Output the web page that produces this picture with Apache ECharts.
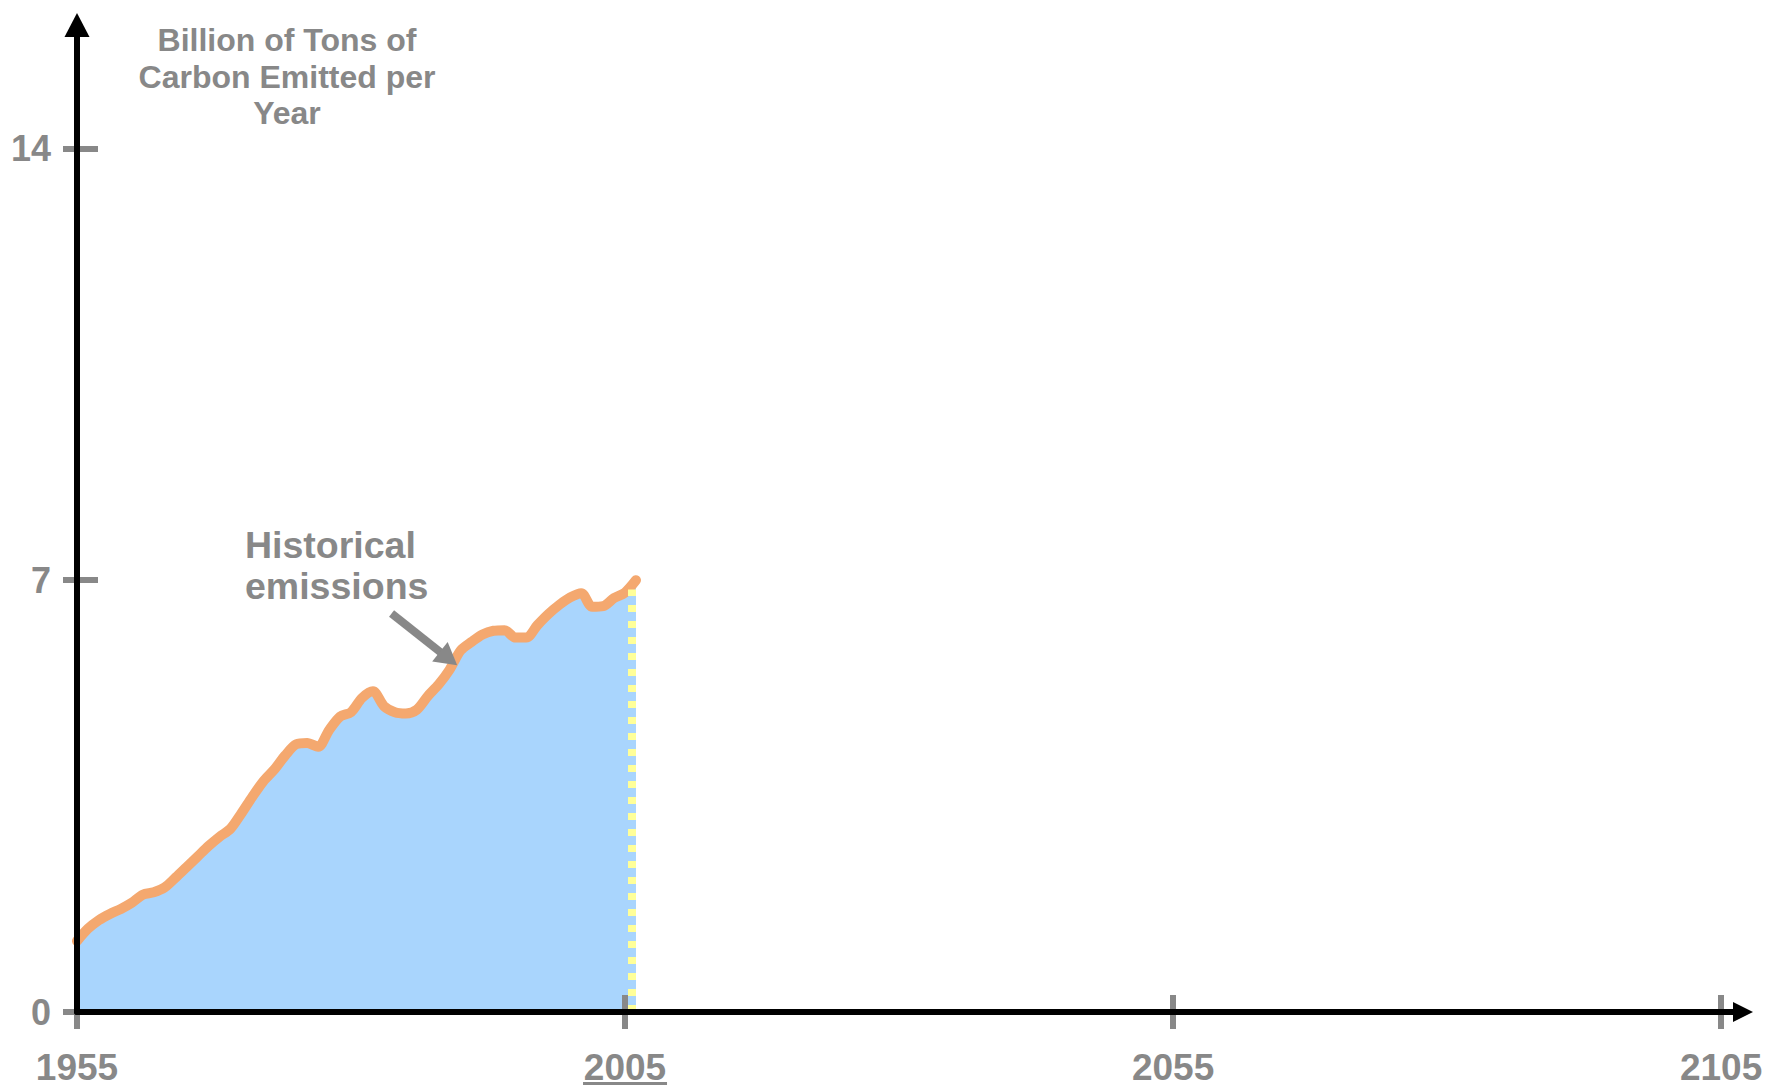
<!DOCTYPE html>
<html>
<head>
<meta charset="UTF-8">
<title>Billion of Tons of Carbon Emitted per Year</title>
<script src="https://cdn.jsdelivr.net/npm/echarts@6/dist/echarts.min.js"></script>
<style>
    html, body { margin: 0; padding: 0; background: #fff; }
    #chart { width: 1777px; height: 1092px; }
</style>
</head>
<body>
<div id="chart"></div>
<script>
    // historical emissions, billion tons of carbon per year
    var years = [1955, 1956, 1957, 1958, 1959, 1960, 1961, 1962, 1963, 1964,
        1965, 1966, 1967, 1968, 1969, 1970, 1971, 1972, 1973, 1974,
        1975, 1976, 1977, 1978, 1979, 1980, 1981, 1982, 1983, 1984,
        1985, 1986, 1987, 1988, 1989, 1990, 1991, 1992, 1993, 1994,
        1995, 1996, 1997, 1998, 1999, 2000, 2001, 2002, 2003, 2004,
        2005, 2006];
    var emissions = [1.15, 1.35, 1.49, 1.59, 1.67, 1.77, 1.90, 1.94, 2.02, 2.18,
        2.35, 2.52, 2.69, 2.84, 2.97, 3.22, 3.49, 3.74, 3.93, 4.16,
        4.34, 4.36, 4.30, 4.57, 4.79, 4.86, 5.09, 5.20, 4.96, 4.86,
        4.84, 4.90, 5.12, 5.31, 5.55, 5.86, 6.00, 6.12, 6.18, 6.19,
        6.07, 6.07, 6.27, 6.45, 6.60, 6.72, 6.79, 6.57, 6.58, 6.71,
        6.80, 7.00];
    var xTicks = [1955, 2005, 2055, 2105];
    var yTicks = [0, 7, 14];
    var underlinedYear = 2005;
    // annotation arrow, in data units
    var arrowFrom = [1983.7, 6.46];
    var arrowTo = [1988.9, 5.73];

    var gray = '#888888';
    var font = '"Liberation Sans", Arial, sans-serif';

    var points = years.map(function (y, i) { return [y, emissions[i]]; });
    var lastYear = years[years.length - 1];
    var lastVal = emissions[emissions.length - 1];

    var chart = echarts.init(document.getElementById('chart'), null, { renderer: 'svg' });

    var tickStyle = { color: gray, width: 6, cap: 'butt' };
    var plain = function (v) { return String(v); };
    var dotted = { color: '#ffff99', width: 8, type: [7, 9], cap: 'butt' };
    var arrowLine = { color: gray, width: 8, type: 'solid' };

    var option = {
        animation: false,
        grid: { left: 77, right: 34, top: 25, bottom: 80, containLabel: false, outerBoundsMode: 'none' },
        xAxis: [{
            type: 'value', min: 1955, max: 2107, position: 'bottom', z: 10,
            axisLine: { show: true, lineStyle: { color: '#000', width: 6 }, symbol: ['none', 'triangle'], symbolSize: [20, 20] },
            axisTick: { show: false },
            axisLabel: {
                customValues: xTicks, margin: 37, color: gray, fontSize: 37, fontWeight: 'bold', fontFamily: font,
                showMinLabel: true, showMaxLabel: true, formatter: plain
            },
            splitLine: { show: false }
        }, {
            // second copy only draws the ticks so they cross the axis line
            type: 'value', min: 1955, max: 2107, position: 'bottom', offset: -17, z: 9,
            axisLine: { show: false },
            axisTick: { show: true, customValues: xTicks, length: 34, lineStyle: tickStyle },
            axisLabel: { show: false },
            splitLine: { show: false }
        }],
        yAxis: [{
            type: 'value', min: 0, max: 16, position: 'left', z: 10,
            axisLine: { show: true, lineStyle: { color: '#000', width: 6 }, symbol: ['none', 'triangle'], symbolSize: [25, 24] },
            axisTick: { show: false },
            axisLabel: {
                customValues: yTicks, margin: 26, color: gray, fontSize: 36, fontWeight: 'bold', fontFamily: font,
                formatter: plain
            },
            splitLine: { show: false }
        }, {
            type: 'value', min: 0, max: 16, position: 'left', offset: -21, z: 9,
            axisLine: { show: false },
            axisTick: { show: true, customValues: yTicks, length: 35, lineStyle: tickStyle },
            axisLabel: { show: false },
            splitLine: { show: false }
        }],
        graphic: [{
            id: 'ytitle', type: 'text', x: 287, y: 22,
            style: {
                text: 'Billion of Tons of\nCarbon Emitted per\nYear',
                fill: gray, font: 'bold 32px ' + font, lineHeight: 36.5,
                align: 'center', verticalAlign: 'top'
            }
        }, {
            id: 'note', type: 'text', x: 245, y: 524,
            style: {
                text: 'Historical\nemissions',
                fill: gray, font: 'bold 37.5px ' + font, lineHeight: 41,
                align: 'left', verticalAlign: 'top'
            }
        }],
        series: [{
            name: 'Historical emissions',
            type: 'line',
            xAxisIndex: 0, yAxisIndex: 0,
            data: points,
            smooth: 0.3,
            symbol: 'none',
            lineStyle: { color: '#f4a86f', width: 10, cap: 'round', join: 'round' },
            areaStyle: { color: '#a9d5fd', opacity: 1 },
            markLine: {
                silent: true,
                animation: false,
                z: 8,
                symbol: ['none', 'none'],
                label: { show: false },
                emphasis: { disabled: true },
                data: [
                    [{ coord: [lastYear - 0.35, 0], lineStyle: dotted },
                     { coord: [lastYear - 0.35, lastVal - 0.15], lineStyle: dotted }],
                    [{ coord: arrowFrom, lineStyle: arrowLine },
                     { coord: arrowTo, symbol: 'triangle', symbolSize: [25, 22], lineStyle: arrowLine }]
                ]
            }
        }]
    };

    chart.setOption(option);

    // underline under the 2005 label
    var ux = chart.convertToPixel({ xAxisIndex: 0 }, underlinedYear);
    var uy = chart.convertToPixel({ yAxisIndex: 0 }, 0) + 70;
    chart.setOption({
        graphic: [{
            id: 'underline', type: 'rect',
            shape: { x: ux - 42, y: uy, width: 84, height: 3 },
            style: { fill: gray }
        }]
    });
</script>
</body>
</html>
